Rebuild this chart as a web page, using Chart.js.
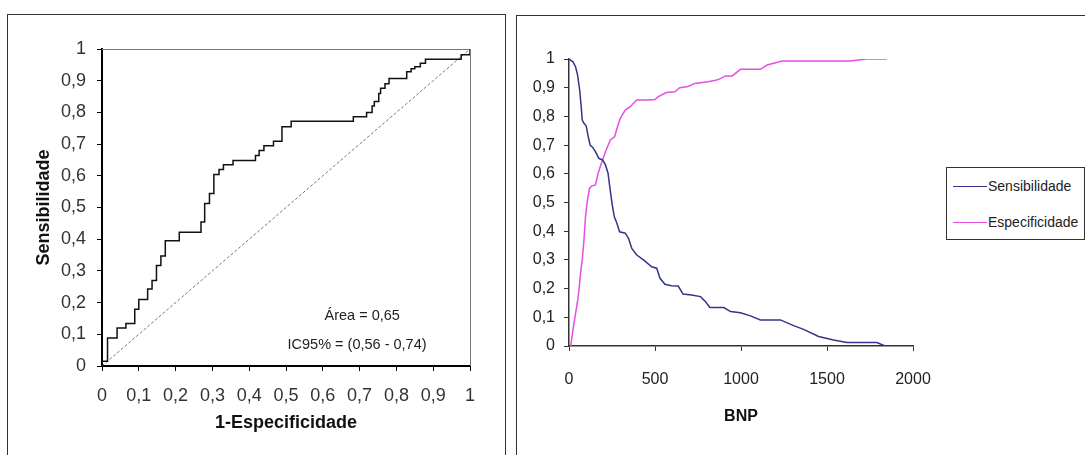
<!DOCTYPE html>
<html>
<head>
<meta charset="utf-8">
<script src="https://cdn.jsdelivr.net/npm/chart.js@4.4.1/dist/chart.umd.min.js"></script>
<style>
  html, body { margin: 0; padding: 0; background: #fff; }
  body { width: 1085px; height: 455px; position: relative; overflow: hidden; }
  .moldura { position: absolute; border: 1.5px solid #333; box-sizing: border-box; }
  #molduraRoc { left: 7px; top: 14px; width: 499px; height: 470px; }
  #molduraBnp { left: 516px; top: 15px; width: 600px; height: 470px; }
  #caixaRoc { position: absolute; left: 0; top: 0; width: 510px; height: 455px; }
  #caixaBnp { position: absolute; left: 517px; top: 16px; width: 568px; height: 439px; }
  #legenda {
    position: absolute; left: 946px; top: 167px; width: 139px; height: 73px;
    border: 1px solid #333; box-sizing: border-box; background: #fff;
    font: 14px "Liberation Sans Narrow", "Arial Narrow", "Liberation Sans", sans-serif; color: #222;
  }
  #legenda .item { display: flex; align-items: center; height: 36px; white-space: nowrap; }
  #legenda .amostra { width: 34px; height: 0; border-top: 1.5px solid; margin-left: 6px; margin-right: 1px; }
</style>
</head>
<body>
<div class="moldura" id="molduraRoc"></div>
<div class="moldura" id="molduraBnp"></div>
<div id="caixaRoc"><canvas id="graficoRoc"></canvas></div>
<div id="caixaBnp"><canvas id="graficoBnp"></canvas></div>
<div id="legenda"></div>
<script>
// curva ROC (1-especificidade x sensibilidade)
const rocFpr = [0, 0, 0.015, 0.041, 0.065, 0.089, 0.100, 0.124, 0.136, 0.148,
  0.160, 0.172, 0.210, 0.269, 0.279, 0.292, 0.304, 0.318, 0.330, 0.356,
  0.417, 0.427, 0.440, 0.466, 0.489, 0.514, 0.672, 0.683, 0.719, 0.734,
  0.740, 0.752, 0.757, 0.769, 0.780, 0.828, 0.840, 0.850, 0.865, 0.879,
  0.963, 0.976, 1];
const rocSens = [0, 0.015, 0.088, 0.12, 0.134, 0.179, 0.21, 0.243, 0.27, 0.317,
  0.347, 0.395, 0.422, 0.454, 0.513, 0.544, 0.604, 0.62, 0.635, 0.648,
  0.664, 0.68, 0.695, 0.709, 0.755, 0.772, 0.772, 0.786, 0.80, 0.82,
  0.834, 0.86, 0.876, 0.89, 0.907, 0.928, 0.938, 0.944, 0.955, 0.968,
  0.968, 0.982, 1];
const diagX = [0, 1];
const diagY = [0, 1];
const rotulosRoc = ["Área = 0,65", "IC95% = (0,56 - 0,74)"];

// sensibilidade e especificidade por ponto de corte do BNP
const bnpSens = [0, 23, 38, 50, 62, 71, 77, 87, 100, 112,
  123, 138, 154, 173, 196, 212, 227, 237, 250, 263,
  279, 294, 327, 346, 365, 394, 433, 481, 510, 529,
  558, 596, 635, 663, 712, 765, 794, 819, 900, 939,
  997, 1055, 1113, 1229, 1306, 1364, 1451, 1538, 1616, 1790, 1838];
const sensibilidade = [1.0, 0.99, 0.973, 0.944, 0.892, 0.834, 0.787, 0.776, 0.767, 0.729,
  0.70, 0.692, 0.677, 0.654, 0.648, 0.631, 0.602, 0.555, 0.497, 0.451,
  0.427, 0.398, 0.393, 0.375, 0.340, 0.317, 0.300, 0.276, 0.271, 0.236,
  0.215, 0.210, 0.209, 0.181, 0.178, 0.172, 0.154, 0.134, 0.134, 0.12,
  0.116, 0.105, 0.091, 0.091, 0.071, 0.058, 0.033, 0.021, 0.012, 0.012, 0];
const bnpEspec = [10, 23, 35, 48, 58, 67, 77, 87, 96, 106,
  119, 131, 154, 169, 188, 212, 240, 265, 279, 298,
  327, 356, 375, 394, 462, 500, 519, 567, 615, 644,
  692, 731, 808, 846, 871, 910, 949, 997, 1113, 1152,
  1239, 1635, 1732, 1848];
const especificidade = [0, 0.056, 0.102, 0.149, 0.195, 0.253, 0.30, 0.369, 0.451, 0.503,
  0.549, 0.557, 0.561, 0.602, 0.636, 0.677, 0.718, 0.729, 0.758, 0.793,
  0.822, 0.834, 0.846, 0.857, 0.857, 0.859, 0.869, 0.883, 0.886, 0.90,
  0.904, 0.915, 0.921, 0.925, 0.929, 0.941, 0.941, 0.964, 0.964, 0.979,
  0.993, 0.993, 1.0, 1.0];

const pares = (xs, ys) => xs.map((x, i) => ({ x, y: ys[i] }));
const virgula = v => String(Math.round(v * 10) / 10).replace(".", ",");

const fonteNormal = "'Liberation Sans', Arial, sans-serif";
const fonteEstreita = "'Liberation Sans Narrow', 'Arial Narrow', 'Liberation Sans', sans-serif";

// borda fina de cima e da direita da area do grafico ROC
const bordaRoc = {
  id: "bordaRoc",
  beforeDatasetsDraw(chart) {
    const { ctx, chartArea: a } = chart;
    ctx.save();
    ctx.strokeStyle = "#777";
    ctx.lineWidth = 1;
    ctx.beginPath();
    ctx.moveTo(a.left, a.top + 0.5);
    ctx.lineTo(a.right + 0.5, a.top + 0.5);
    ctx.lineTo(a.right + 0.5, a.bottom);
    ctx.stroke();
    ctx.restore();
  }
};

// textos de area e IC dentro do grafico
const textosRoc = {
  id: "textosRoc",
  afterDatasetsDraw(chart) {
    const { ctx, scales } = chart;
    const pos = [[0.707, 0.158], [0.693, 0.066]];
    ctx.save();
    ctx.font = "14.5px " + fonteNormal;
    ctx.fillStyle = "#222";
    ctx.textAlign = "center";
    ctx.textBaseline = "middle";
    rotulosRoc.forEach((t, i) => {
      ctx.fillText(t, scales.x.getPixelForValue(pos[i][0]), scales.y.getPixelForValue(pos[i][1]));
    });
    ctx.restore();
  }
};

new Chart(document.getElementById("graficoRoc"), {
  type: "scatter",
  data: {
    datasets: [
      {
        label: "ROC",
        data: pares(rocFpr, rocSens),
        showLine: true,
        stepped: "before",
        borderColor: "#111",
        borderWidth: 1.5,
        pointRadius: 0
      },
      {
        label: "Referência",
        data: pares(diagX, diagY),
        showLine: true,
        borderColor: "#777",
        borderWidth: 1,
        borderDash: [3, 2],
        pointRadius: 0
      }
    ]
  },
  options: {
    responsive: true,
    maintainAspectRatio: false,
    animation: false,
    layout: { padding: { left: 33, top: 49, right: 40, bottom: 9 } },
    plugins: { legend: { display: false }, tooltip: { enabled: false } },
    scales: {
      x: {
        type: "linear", min: 0, max: 1,
        afterFit(s) { s.height = 80; },
        ticks: { stepSize: 0.1, autoSkip: false, maxRotation: 0, padding: 14, color: "#333",
          font: { family: fonteNormal, size: 18 }, callback: virgula },
        grid: { drawOnChartArea: false, drawTicks: true, tickLength: 5, tickColor: "#000", tickWidth: 1 },
        border: { display: true, color: "#000", width: 2 },
        title: { display: true, text: "1-Especificidade", color: "#111",
          font: { family: fonteNormal, size: 18, weight: "bold" }, padding: { top: 0, bottom: 12 } }
      },
      y: {
        type: "linear", min: 0, max: 1,
        afterFit(s) { s.width = 69; },
        ticks: { stepSize: 0.1, autoSkip: false, padding: 11, color: "#333",
          font: { family: fonteNormal, size: 18 }, callback: virgula },
        grid: { drawOnChartArea: false, drawTicks: true, tickLength: 5, tickColor: "#000", tickWidth: 1 },
        border: { display: true, color: "#000", width: 2 },
        title: { display: true, text: "Sensibilidade", color: "#111",
          font: { family: fonteNormal, size: 18, weight: "bold" }, padding: { top: 0, bottom: 0 } }
      }
    }
  },
  plugins: [bordaRoc, textosRoc]
});

const graficoBnp = new Chart(document.getElementById("graficoBnp"), {
  type: "scatter",
  data: {
    datasets: [
      {
        label: "Sensibilidade",
        data: pares(bnpSens, sensibilidade),
        showLine: true,
        borderColor: "#34348c",
        borderWidth: 1.5,
        pointRadius: 0
      },
      {
        label: "Especificidade",
        data: pares(bnpEspec, especificidade),
        showLine: true,
        borderColor: "#e64ee6",
        borderWidth: 1.5,
        pointRadius: 0
      }
    ]
  },
  options: {
    responsive: true,
    maintainAspectRatio: false,
    animation: false,
    layout: { padding: { left: 10, top: 43, right: 172, bottom: 19 } },
    plugins: { legend: { display: false }, tooltip: { enabled: false } },
    scales: {
      x: {
        type: "linear", min: 0, max: 2000,
        afterFit(s) { s.height = 90; },
        ticks: { stepSize: 500, autoSkip: false, maxRotation: 0, padding: 19, color: "#222",
          font: { family: fonteEstreita, size: 16 }, callback: v => String(v) },
        grid: { drawOnChartArea: false, drawTicks: true, tickLength: 5, tickColor: "#333", tickWidth: 1 },
        border: { display: true, color: "#333", width: 1.5 },
        title: { display: true, text: "BNP", color: "#111",
          font: { family: fonteEstreita, size: 16, weight: "bold" }, padding: { top: 0, bottom: 10 } }
      },
      y: {
        type: "linear", min: 0, max: 1,
        afterFit(s) { s.width = 42; },
        ticks: { stepSize: 0.1, autoSkip: false, padding: 9, color: "#222",
          font: { family: fonteEstreita, size: 16 }, callback: virgula },
        grid: { drawOnChartArea: false, drawTicks: true, tickLength: 5, tickColor: "#333", tickWidth: 1 },
        border: { display: true, color: "#333", width: 1.5 }
      }
    }
  }
});

// legenda em HTML a partir dos rotulos que o proprio Chart.js gera
const legenda = document.getElementById("legenda");
Chart.defaults.plugins.legend.labels.generateLabels(graficoBnp).forEach(item => {
  const linha = document.createElement("div");
  linha.className = "item";
  const amostra = document.createElement("span");
  amostra.className = "amostra";
  amostra.style.borderTopColor = item.strokeStyle;
  const texto = document.createElement("span");
  texto.textContent = item.text;
  linha.appendChild(amostra);
  linha.appendChild(texto);
  legenda.appendChild(linha);
});
</script>
</body>
</html>
